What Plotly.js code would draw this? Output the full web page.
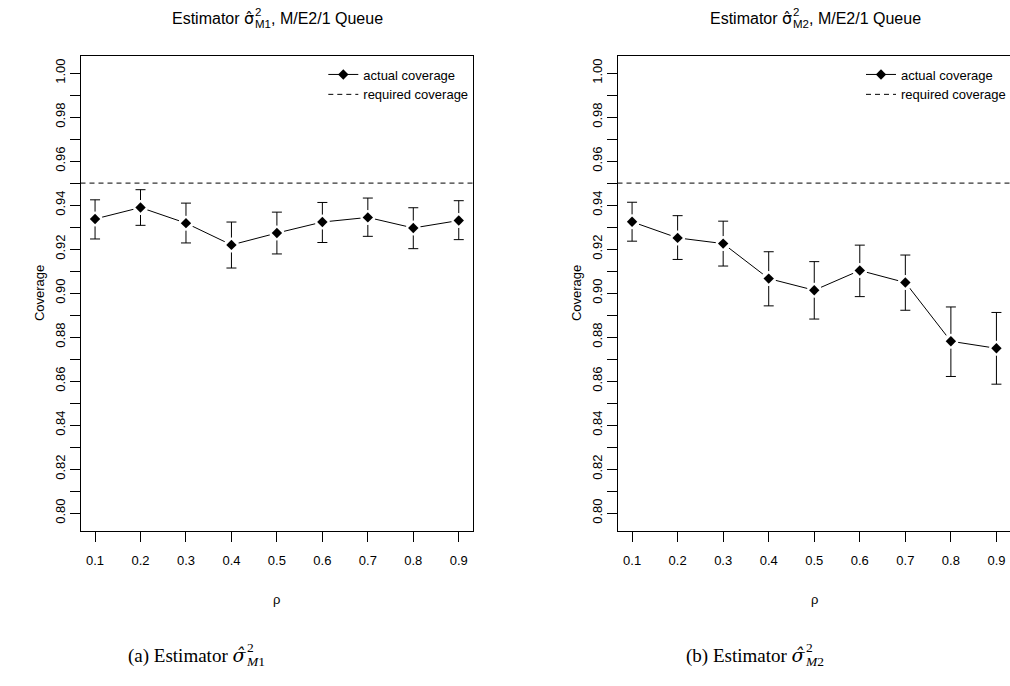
<!DOCTYPE html>
<html>
<head>
<meta charset="utf-8">
<script src="https://cdn.plot.ly/plotly-3.0.1.min.js"></script>
<style>
  html, body { margin: 0; padding: 0; overflow: hidden; background: #fff; }
  #chart { width: 1012px; height: 686px; }
</style>
</head>
<body>
<div id="chart"></div>
<script>
// Traffic intensity rho on the x axis
const rho = [0.1, 0.2, 0.3, 0.4, 0.5, 0.6, 0.7, 0.8, 0.9];
const rhoLabels = ['0.1', '0.2', '0.3', '0.4', '0.5', '0.6', '0.7', '0.8', '0.9'];

// Nominal coverage of the confidence intervals
const requiredCoverage = 0.95;

// Estimator M1: observed coverage with its confidence bounds
const m1Coverage = [0.9337, 0.9389, 0.9318, 0.9219, 0.9273, 0.9323, 0.9344, 0.9296, 0.9330];
const m1Lower    = [0.9246, 0.9308, 0.9228, 0.9114, 0.9178, 0.9230, 0.9258, 0.9202, 0.9243];
const m1Upper    = [0.9424, 0.9470, 0.9409, 0.9323, 0.9368, 0.9412, 0.9432, 0.9388, 0.9420];

// Estimator M2: observed coverage with its confidence bounds
const m2Coverage = [0.9324, 0.9251, 0.9225, 0.9066, 0.9013, 0.9103, 0.9048, 0.8781, 0.8749];
const m2Lower    = [0.9236, 0.9153, 0.9123, 0.8942, 0.8882, 0.8984, 0.8922, 0.8621, 0.8586];
const m2Upper    = [0.9413, 0.9352, 0.9327, 0.9188, 0.9143, 0.9218, 0.9173, 0.8937, 0.8912];

// Coverage axis: a tick every 0.01, a label every 0.02
const yTickVals = [0.80, 0.81, 0.82, 0.83, 0.84, 0.85, 0.86, 0.87, 0.88, 0.89, 0.90,
                   0.91, 0.92, 0.93, 0.94, 0.95, 0.96, 0.97, 0.98, 0.99, 1.00];
const yTickText = ['0.80', '', '0.82', '', '0.84', '', '0.86', '', '0.88', '', '0.90',
                   '', '0.92', '', '0.94', '', '0.96', '', '0.98', '', '1.00'];

// ---- page geometry (pixels) ----
const W = 1012, H = 686;
const BOX_TOP = 55.5, BOX_BOTTOM = 530.7;
const LEFT_BOX = [80.5, 473.3];
const RIGHT_BOX = [617.5, 1011];

const SANS = 'Liberation Sans, Arial, sans-serif';
const SERIF = 'Liberation Serif, Times New Roman, serif';
const MATH_SANS = 'DejaVu Sans';
const MATH_SERIF = 'DejaVu Serif';
const BASE_SIZE = 13;
const SIGMA_HAT = 'σ\u0302';

const px = v => v / W;
const py = v => 1 - v / H;

const canvas = document.createElement('canvas');
const ctx = canvas.getContext('2d');
function textWidth(str, size, family, style) {
  ctx.font = (style ? style + ' ' : '') + size + 'px ' + family;
  return ctx.measureText(str).width;
}

function panelTraces(cov, lo, hi, xa, ya, legendId) {
  const plus = hi.map((h, i) => h - cov[i]);
  const minus = cov.map((c, i) => c - lo[i]);
  return [
    { // connecting line and confidence bars
      x: rho, y: cov, xaxis: xa, yaxis: ya, mode: 'lines',
      line: { color: '#000', width: 1 },
      error_y: { type: 'data', symmetric: false, array: plus, arrayminus: minus,
                 color: '#000', thickness: 1, width: 5 },
      showlegend: false, hoverinfo: 'skip'
    },
    { // white halo so lines stop short of each point
      x: rho, y: cov, xaxis: xa, yaxis: ya, mode: 'markers',
      marker: { symbol: 'circle', size: 15, color: '#fff' },
      showlegend: false, hoverinfo: 'skip'
    },
    { // filled diamonds
      x: rho, y: cov, xaxis: xa, yaxis: ya, mode: 'markers',
      marker: { symbol: 'diamond', size: 8, color: '#000' },
      showlegend: false
    },
    { // legend key: line with diamond
      x: [null], y: [null], xaxis: xa, yaxis: ya, mode: 'lines+markers',
      name: 'actual coverage', legend: legendId, legendrank: 1,
      line: { color: '#000', width: 1 },
      marker: { symbol: 'diamond', size: 8, color: '#000' }
    }
  ];
}

function xAxis(box, anchor) {
  return {
    domain: [px(box[0]), px(box[1])], anchor: anchor,
    range: [0.068, 0.932], tickvals: rho, ticktext: rhoLabels,
    ticks: 'outside', ticklen: 10, tickwidth: 1, tickcolor: '#000',
    ticklabelstandoff: 8,
    showline: true, mirror: true, linecolor: '#000', linewidth: 1,
    showgrid: false, zeroline: false, fixedrange: true,
    tickfont: { family: SANS, size: BASE_SIZE, color: '#000' }
  };
}
function yAxis(anchor) {
  return {
    domain: [py(BOX_BOTTOM), py(BOX_TOP)], anchor: anchor,
    range: [0.792, 1.008], tickvals: yTickVals, ticktext: yTickText,
    tickangle: -90, ticks: 'outside', ticklen: 10, tickwidth: 1, tickcolor: '#000',
    ticklabelstandoff: -1,
    showline: true, mirror: true, linecolor: '#000', linewidth: 1,
    showgrid: false, zeroline: false, fixedrange: true,
    tickfont: { family: SANS, size: BASE_SIZE, color: '#000' }
  };
}

function requiredLine(xa, ya, legendId) {
  return {
    type: 'line', xref: xa + ' domain', x0: 0, x1: 1,
    yref: ya, y0: requiredCoverage, y1: requiredCoverage,
    line: { color: '#000', width: 1, dash: '5px,4px' },
    showlegend: true, name: 'required coverage', legend: legendId, legendrank: 2
  };
}

function legendBox(box) {
  return {
    x: px(box[1]), xanchor: 'right', y: py(BOX_TOP + 4), yanchor: 'top',
    bgcolor: 'rgba(0,0,0,0)', borderwidth: 0,
    font: { family: SANS, size: BASE_SIZE, color: '#000' },
    itemwidth: 30, traceorder: 'normal'
  };
}

function ann(text, xPx, yPx, size, family, extra) {
  return Object.assign({
    text: text, xref: 'paper', yref: 'paper', x: px(xPx), y: py(yPx),
    xanchor: 'left', yanchor: 'middle', showarrow: false, borderpad: 0,
    font: { family: family, size: size, color: '#000' }
  }, extra || {});
}

// Panel title: "Estimator σ̂²_Mk, M/E2/1 Queue" with stacked scripts
function panelTitle(box, sub) {
  const f = 16, fs = 11.5, yMid = 18.5;
  const head = 'Estimator <span style="font-family:' + MATH_SANS + '">' + SIGMA_HAT + '</span>';
  const wHead = textWidth('Estimator ', f, SANS) + textWidth(SIGMA_HAT, f, MATH_SANS);
  const wScript = Math.max(textWidth(sub, fs, SANS), textWidth('2', fs, SANS));
  const tail = ', M/E2/1 Queue';
  const wTail = textWidth(tail, f, SANS);
  const total = wHead + 1 + wScript + wTail;
  const x0 = (box[0] + box[1]) / 2 - total / 2;
  return [
    ann(head, x0, yMid, f, SANS),
    ann('2', x0 + wHead + 1, yMid - 7, fs, SANS),
    ann(sub, x0 + wHead + 1, yMid + 6, fs, SANS),
    ann(tail, x0 + wHead + 1 + wScript, yMid, f, SANS)
  ];
}

// Figure caption: "(x) Estimator σ̂²_Mk" in a serif face
function caption(label, cx, digit) {
  const f = 19, fs = 13.5, yMid = 655;
  const lead = '(' + label + ') Estimator ';
  const head = lead + '<i><span style="font-family:' + MATH_SERIF + '">' + SIGMA_HAT + '</span></i>';
  const wHead = textWidth(lead, f, SERIF) + textWidth(SIGMA_HAT, f, MATH_SERIF, 'italic');
  const wSub = textWidth('M', fs, SERIF, 'italic') + textWidth(digit, fs, SERIF);
  const wScript = Math.max(wSub, textWidth('2', fs, SERIF));
  const x0 = cx - (wHead + 1 + wScript) / 2;
  return [
    ann(head, x0, yMid, f, SERIF),
    ann('2', x0 + wHead + 1.5, yMid - 7.5, fs, SERIF),
    ann('<i>M</i>' + digit, x0 + wHead + 0.5, yMid + 6.5, fs, SERIF)
  ];
}

function axisTitles(box) {
  return [
    ann('Coverage', box[0] - 41.5, (BOX_TOP + BOX_BOTTOM) / 2, BASE_SIZE, SANS,
        { xanchor: 'center', textangle: -90 }),
    ann('ρ', (box[0] + box[1]) / 2, 599, BASE_SIZE, SANS, { xanchor: 'center' })
  ];
}

const data = []
  .concat(panelTraces(m1Coverage, m1Lower, m1Upper, 'x', 'y', 'legend'))
  .concat(panelTraces(m2Coverage, m2Lower, m2Upper, 'x2', 'y2', 'legend2'));

const layout = {
  width: W, height: H,
  margin: { l: 0, r: 0, t: 0, b: 0 },
  paper_bgcolor: '#fff', plot_bgcolor: '#fff',
  showlegend: true,
  xaxis: xAxis(LEFT_BOX, 'y'),
  yaxis: yAxis('x'),
  xaxis2: xAxis(RIGHT_BOX, 'y2'),
  yaxis2: yAxis('x2'),
  legend: legendBox(LEFT_BOX),
  legend2: legendBox(RIGHT_BOX),
  shapes: [requiredLine('x', 'y', 'legend'), requiredLine('x2', 'y2', 'legend2')],
  annotations: []
    .concat(panelTitle(LEFT_BOX, 'M1'))
    .concat(panelTitle(RIGHT_BOX, 'M2'))
    .concat(axisTitles(LEFT_BOX))
    .concat(axisTitles(RIGHT_BOX))
    .concat(caption('a', 195, '1'))
    .concat(caption('b', 754, '2')),
  hovermode: false
};

Plotly.newPlot('chart', data, layout, { staticPlot: true, displayModeBar: false });
</script>
</body>
</html>
